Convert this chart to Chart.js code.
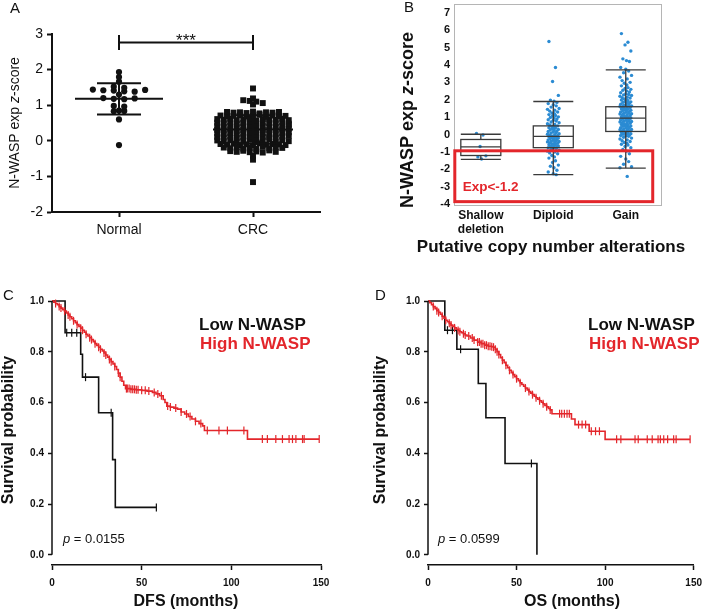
<!DOCTYPE html>
<html>
<head>
<meta charset="utf-8">
<title>N-WASP expression and survival</title>
<script src="https://cdn.jsdelivr.net/npm/chart.js@4.4.1/dist/chart.umd.min.js"></script>
<style>
  html, body { margin: 0; padding: 0; background: #fff; }
  #figure { position: relative; width: 709px; height: 611px; overflow: hidden; }
  #figure canvas { position: absolute; }
</style>
</head>
<body>
<div id="figure">
  <canvas id="panelA" width="340" height="260" style="left:0;top:0"></canvas>
  <canvas id="panelB" width="369" height="275" style="left:340px;top:-10px"></canvas>
  <canvas id="panelC" width="355" height="331" style="left:0;top:280px"></canvas>
  <canvas id="panelD" width="354" height="331" style="left:355px;top:280px"></canvas>
</div>
<script>
// ---------- Panel A : z-score normal vs CRC ----------
const groupLabels = ["Normal", "CRC"];
const normalValues = [1.93, 1.79, 1.66, 1.52, 1.49, 1.44, 1.42, 1.41, 1.39, 1.38, 1.43, 1.3,
  1.2, 1.18, 1.17, 1.19, 0.98, 0.96, 0.85, 0.83, 0.84, 0.6, -0.12];
const crcValues = [
  1.47, 1.19, 1.14, 1.12, 1.1, 1.06, 1.02,
  0.81, 0.79, 0.8, 0.78, 0.82, 0.77, 0.8, 0.79, 0.81,
  0.71, 0.69, 0.7, 0.72, 0.68, 0.7, 0.73, 0.67, 0.71, 0.69, 0.7,
  0.61, 0.59, 0.62, 0.58, 0.6, 0.63, 0.57, 0.61, 0.6, 0.59, 0.62, 0.58,
  0.51, 0.49, 0.52, 0.48, 0.5, 0.53, 0.47, 0.51, 0.5, 0.49, 0.52, 0.48,
  0.41, 0.39, 0.42, 0.38, 0.4, 0.43, 0.37, 0.41, 0.4, 0.39, 0.42, 0.44,
  0.31, 0.29, 0.32, 0.28, 0.3, 0.33, 0.27, 0.31, 0.3, 0.29, 0.32, 0.34,
  0.21, 0.19, 0.22, 0.18, 0.2, 0.23, 0.17, 0.21, 0.2, 0.19, 0.22, 0.24,
  0.11, 0.09, 0.12, 0.08, 0.1, 0.13, 0.07, 0.11, 0.1, 0.09, 0.12, 0.14,
  0.01, -0.01, 0.02, -0.02, 0.0, 0.03, -0.03, 0.01, 0.04, -0.04, 0.02, -0.01,
  -0.09, -0.11, -0.08, -0.12, -0.1, -0.13, -0.07, -0.11, -0.09, -0.1, -0.12,
  -0.19, -0.21, -0.18, -0.22, -0.2, -0.23, -0.17, -0.21, -0.19, -0.2,
  -0.29, -0.31, -0.28, -0.32, -0.3, -0.33, -0.27, -0.31,
  -0.42, -0.53, -1.16];
const groupMean = [1.18, 0.32];
const groupSd = [0.44, 0.4];
const zTicks = [-2, -1, 0, 1, 2, 3];

// ---------- Panel B : copy number alterations ----------
const cnaLabels = [["Shallow", "deletion"], "Diploid", "Gain"];
const shallowValues = [0.07, -0.02, -0.68, -1.22, -1.28, -1.4];
const diploidValues = [5.35, 3.85, 3.05, 2.25, 1.98, 1.92, 1.85, 1.78, 1.72, 1.65, 1.58, 1.5,
  1.45, 1.4, 1.35, 1.3, 1.25, 1.2, 1.15, 1.1, 1.08, 1.02, 0.98, 0.95, 0.9, 0.85, 0.82, 0.78,
  0.72, 0.68, 0.62, 0.58, 0.55, 0.5, 0.48, 0.45, 0.4, 0.38, 0.35, 0.3, 0.28, 0.25, 0.2, 0.18,
  0.15, 0.12, 0.1, 0.05, 0.02, 0.0, -0.02, -0.05, -0.08, -0.1, -0.12, -0.15, -0.18, -0.2,
  -0.22, -0.25, -0.28, -0.3, -0.32, -0.35, -0.38, -0.4, -0.42, -0.45, -0.48, -0.5, -0.52,
  -0.55, -0.58, -0.6, -0.62, -0.65, -0.68, -0.7, -0.72, -0.75, -0.78, -0.8, -0.85, -0.9,
  -0.95, -1.0, -1.05, -1.1, -1.2, -1.28, -1.35, -1.5, -1.6, -1.75, -1.82, -1.9, -2.05,
  -2.15, -2.25, -2.3];
const gainValues = [5.8, 5.3, 5.15, 4.8, 4.35, 4.25, 4.2, 3.85, 3.75, 3.65, 3.55, 3.4, 3.3,
  3.2, 3.1, 3.0, 2.95, 2.85, 2.8, 2.7, 2.65, 2.6, 2.55, 2.5, 2.45, 2.4, 2.35, 2.3, 2.28,
  2.25, 2.2, 2.15, 2.12, 2.1, 2.05, 2.0, 1.98, 1.95, 1.9, 1.88, 1.85, 1.82, 1.8, 1.75,
  1.72, 1.7, 1.68, 1.65, 1.62, 1.6, 1.58, 1.55, 1.52, 1.5, 1.48, 1.45, 1.42, 1.4, 1.38,
  1.35, 1.32, 1.3, 1.28, 1.25, 1.22, 1.2, 1.18, 1.15, 1.12, 1.1, 1.08, 1.05, 1.02, 1.0,
  0.98, 0.95, 0.92, 0.9, 0.88, 0.85, 0.82, 0.8, 0.78, 0.75, 0.72, 0.7, 0.68, 0.65, 0.62,
  0.6, 0.58, 0.55, 0.52, 0.5, 0.48, 0.45, 0.42, 0.4, 0.38, 0.35, 0.32, 0.3, 0.28, 0.25,
  0.22, 0.2, 0.18, 0.15, 0.12, 0.1, 0.08, 0.05, 0.02, 0.0, -0.02, -0.05, -0.08, -0.1,
  -0.15, -0.2, -0.25, -0.3, -0.35, -0.4, -0.45, -0.5, -0.55, -0.6, -0.68, -0.75, -0.85,
  -0.95, -1.1, -1.25, -1.4, -1.55, -1.7, -1.85, -1.9, -2.4];
const boxLow = [-1.42, -2.3, -1.92];
const boxQ1 = [-1.2, -0.75, 0.18];
const boxMedian = [-0.7, -0.1, 0.95];
const boxQ3 = [-0.28, 0.5, 1.6];
const boxHigh = [0.02, 1.9, 3.72];
const cnaTicks = [-4, -3, -2, -1, 0, 1, 2, 3, 4, 5, 6, 7];

// ---------- Panels C, D : Kaplan-Meier ----------
const monthTicks = [0, 50, 100, 150];
const survTicks = [0, 0.2, 0.4, 0.6, 0.8, 1.0];

const dfsLowTime = [0, 7.3, 16, 17, 26, 33.8, 35.3, 58.2];
const dfsLowSurv = [1, 0.875, 0.79, 0.7, 0.56, 0.375, 0.187, 0.187];
const dfsLowCensor = [8.2, 11, 13.8, 18.7, 33, 58.2];
const dfsHighTime = [0, 1, 2, 3, 4, 5, 6, 7, 8, 9, 10, 11, 12, 13, 14, 15, 16, 17, 18, 19, 20,
  21, 22, 23, 24, 25, 26, 27, 28, 29, 30, 31, 32, 33, 34, 35, 36, 37, 38, 39, 40, 41, 44, 47,
  50, 53, 56, 58, 60, 62, 63, 64, 66, 68, 70, 72, 74, 76, 78, 80, 82, 84, 85, 109, 149];
const dfsHighSurv = [1, 0.995, 0.99, 0.985, 0.978, 0.972, 0.966, 0.96, 0.953, 0.945, 0.938,
  0.93, 0.922, 0.915, 0.907, 0.9, 0.893, 0.885, 0.877, 0.869, 0.862, 0.855, 0.848, 0.84,
  0.832, 0.825, 0.818, 0.81, 0.803, 0.795, 0.787, 0.779, 0.77, 0.761, 0.752, 0.742, 0.73,
  0.716, 0.7, 0.684, 0.668, 0.655, 0.652, 0.65, 0.648, 0.645, 0.64, 0.634, 0.627, 0.612,
  0.6, 0.586, 0.582, 0.578, 0.574, 0.563, 0.555, 0.545, 0.535, 0.526, 0.517, 0.508, 0.49,
  0.456, 0.456];
const dfsHighCensor = [2, 4, 5, 7, 9, 10, 12, 14, 16, 17, 19, 21, 22, 24, 26, 27, 29, 30, 32,
  33, 35, 37, 38, 41.5, 42, 43, 44, 45, 46, 47, 48, 50, 52, 54, 57, 59, 61, 64.5, 66, 69, 72,
  75, 77, 80, 83, 86.6, 93.1, 97.8, 107, 117.3, 120.1, 124.8, 128.5, 132.2, 134.1, 136,
  139.7, 140.6, 149];

const osLowTime = [0, 9.5, 16.3, 28.4, 32.7, 43.5, 61.5];
const osLowSurv = [1, 0.885, 0.81, 0.675, 0.54, 0.36, 0];
const osLowCensor = [11, 13.8, 18.4, 58.4];
const osHighTime = [0, 1, 2, 3, 4, 5, 6, 7, 8, 9, 10, 11, 12, 13, 14, 15, 16, 17, 18, 19, 20,
  21, 22, 24, 26, 28, 30, 32, 34, 36, 37, 38, 39, 40, 41, 42, 43, 44, 45, 46, 47, 48, 49, 50,
  51, 52, 53, 54, 55, 56, 57, 58, 59, 60, 61, 62, 63, 64, 65, 66, 67, 68, 69, 70, 81, 83, 91,
  100, 148];
const osHighSurv = [1, 0.993, 0.985, 0.978, 0.97, 0.962, 0.955, 0.948, 0.94, 0.932, 0.924,
  0.918, 0.912, 0.905, 0.9, 0.894, 0.889, 0.884, 0.879, 0.875, 0.871, 0.866, 0.862, 0.854,
  0.846, 0.838, 0.832, 0.826, 0.822, 0.82, 0.818, 0.81, 0.8, 0.789, 0.777, 0.767, 0.757,
  0.747, 0.737, 0.727, 0.718, 0.71, 0.702, 0.694, 0.686, 0.678, 0.671, 0.664, 0.657, 0.65,
  0.643, 0.637, 0.631, 0.625, 0.619, 0.613, 0.607, 0.601, 0.595, 0.589, 0.583, 0.577,
  0.571, 0.556, 0.535, 0.513, 0.487, 0.455, 0.455];
const osHighCensor = [3, 5, 6, 8, 10, 12, 13, 15, 17, 18, 20, 21, 23, 25, 26, 28, 29, 30, 31,
  32, 33, 34, 35, 36, 37, 38, 39, 40, 42, 44, 46, 48, 50, 52, 55, 57, 59, 61, 63, 65, 67, 69,
  74.3, 75.5, 77, 78.5, 79.8, 85, 87, 89, 92.2, 94.6, 96.8, 106.5, 108.9, 116.9, 118.7,
  123.8, 126.6, 129.9, 131.2, 133.1, 135.3, 138.7, 140.1, 148];

// ---------- styles ----------
const FAMILY = '"Liberation Sans", Arial, Helvetica, sans-serif';
const INK = "#111";
const RED = "#e3262b";
const BLUE = "#2b8bd3";
Chart.defaults.font.family = FAMILY;
Chart.defaults.color = INK;
Chart.defaults.animation = false;
Chart.defaults.responsive = false;
Chart.defaults.devicePixelRatio = 1;
Chart.defaults.plugins.legend.display = false;
Chart.defaults.plugins.tooltip.enabled = false;

const f = (size, weight = "normal", style = "normal") => `${style} ${weight} ${size}px ${FAMILY}`;

// écrit un texte composé de plusieurs morceaux (italique, gras...) éventuellement tourné
function drawParts(ctx, parts, x, y, rotate = false, align = "left") {
  ctx.save();
  ctx.translate(x, y);
  if (rotate) ctx.rotate(-Math.PI / 2);
  ctx.textBaseline = rotate ? "middle" : "alphabetic";
  ctx.textAlign = "left";
  let total = 0;
  parts.forEach((p) => { ctx.font = p.font; total += ctx.measureText(p.text).width; });
  let cx = align === "center" ? -total / 2 : 0;
  parts.forEach((p) => {
    ctx.font = p.font;
    ctx.fillStyle = p.color || INK;
    ctx.fillText(p.text, cx, 0);
    cx += ctx.measureText(p.text).width;
  });
  ctx.restore();
}

function line(ctx, x1, y1, x2, y2) {
  ctx.beginPath();
  ctx.moveTo(x1, y1);
  ctx.lineTo(x2, y2);
  ctx.stroke();
}

const fixedTicks = (list) => (s) => { s.ticks = list.map((v) => ({ value: v })); };

// points de même niveau rangés côte à côte (colonne "beeswarm")
function swarm(values, center, step) {
  const rows = {};
  values.forEach((v) => {
    const k = Math.round(v * 10);
    (rows[k] = rows[k] || []).push(v);
  });
  const pts = [];
  Object.values(rows).forEach((row) =>
    row.forEach((v, i) => pts.push({ x: center + (i - (row.length - 1) / 2) * step, y: v }))
  );
  return pts;
}

// décalage horizontal fixe des points du panneau B
const JITTER = [-0.06, 0.03, -0.01, 0.07, -0.04, 0.01, 0.05, -0.07, 0, 0.04, -0.03, 0.08,
  -0.08, 0.02, -0.05, 0.06, -0.02, 0.015];
const jitter = (values, center) =>
  values.map((v, i) => ({ x: center + JITTER[i % JITTER.length], y: v }));

// ---------- Panel A ----------
const panelADecor = {
  id: "panelADecor",
  afterDatasetsDraw(chart) {
    const { ctx, scales: { x, y } } = chart;
    ctx.save();
    ctx.strokeStyle = INK;
    ctx.lineWidth = 2;
    const meanHalf = [44, 40];
    groupMean.forEach((m, i) => {
      const cx = x.getPixelForValue(i + 1);
      const yTop = y.getPixelForValue(m + groupSd[i]);
      const yBot = y.getPixelForValue(m - groupSd[i]);
      line(ctx, cx - meanHalf[i], y.getPixelForValue(m), cx + meanHalf[i], y.getPixelForValue(m));
      line(ctx, cx - 22, yTop, cx + 22, yTop);
      line(ctx, cx - 22, yBot, cx + 22, yBot);
      line(ctx, cx, yTop, cx, yBot);
    });
    // barre de significativité
    const x1 = x.getPixelForValue(1), x2 = x.getPixelForValue(2);
    const yb = y.getPixelForValue(2.76);
    line(ctx, x1, yb, x2, yb);
    line(ctx, x1, y.getPixelForValue(2.97), x1, y.getPixelForValue(2.55));
    line(ctx, x2, y.getPixelForValue(2.97), x2, y.getPixelForValue(2.55));
    ctx.fillStyle = INK;
    ctx.font = f(17);
    ctx.textAlign = "center";
    ctx.textBaseline = "alphabetic";
    ctx.fillText("***", (x1 + x2) / 2, yb + 3);
    ctx.restore();

    drawParts(ctx, [{ text: "A", font: f(15) }], 10, 13);
    drawParts(ctx, [
      { text: "N-WASP exp ", font: f(14) },
      { text: "z", font: f(14, "normal", "italic") },
      { text: "-score", font: f(14) },
    ], 15, 123, true, "center");
  },
};

new Chart(document.getElementById("panelA"), {
  type: "scatter",
  data: {
    datasets: [
      { data: swarm(normalValues, 1, 0.078), pointStyle: "circle", pointRadius: 3.1,
        pointBackgroundColor: INK, pointBorderWidth: 0 },
      { data: swarm(crcValues, 2, 0.0485), pointStyle: "rect", pointRadius: 4.2,
        pointBackgroundColor: INK, pointBorderWidth: 0 },
    ],
  },
  options: {
    layout: { padding: { top: 34, right: 20, left: 0, bottom: 0 } },
    scales: {
      x: {
        type: "linear", min: 0.5, max: 2.5,
        afterBuildTicks: fixedTicks([1, 2]),
        afterFit: (s) => { s.height = 48; },
        ticks: { callback: (v) => groupLabels[v - 1], font: { size: 14 }, color: INK, padding: 5, maxRotation: 0 },
        grid: { drawOnChartArea: false, tickLength: 5, tickWidth: 2, tickColor: INK },
        border: { color: INK, width: 2 },
      },
      y: {
        min: -2, max: 3,
        afterBuildTicks: fixedTicks(zTicks),
        afterFit: (s) => { s.width = 52; },
        ticks: { font: { size: 14 }, color: INK, padding: 4 },
        grid: { drawOnChartArea: false, tickLength: 5, tickWidth: 2, tickColor: INK },
        border: { color: INK, width: 2 },
      },
    },
  },
  plugins: [panelADecor],
});

// ---------- Panel B ----------
const boxPlot = {
  id: "boxPlot",
  afterDatasetsDraw(chart) {
    const { ctx, chartArea: a, scales: { x, y } } = chart;
    const half = 20;
    ctx.save();
    ctx.strokeStyle = "#3a3a3a";
    ctx.lineWidth = 1.3;
    boxMedian.forEach((m, i) => {
      const cx = x.getPixelForValue(i + 1);
      const yQ1 = y.getPixelForValue(boxQ1[i]), yQ3 = y.getPixelForValue(boxQ3[i]);
      const yLo = y.getPixelForValue(boxLow[i]), yHi = y.getPixelForValue(boxHigh[i]);
      ctx.strokeRect(cx - half, yQ3, 2 * half, yQ1 - yQ3);
      line(ctx, cx - half, y.getPixelForValue(m), cx + half, y.getPixelForValue(m));
      line(ctx, cx, yQ3, cx, yHi);
      line(ctx, cx, yQ1, cx, yLo);
      line(ctx, cx - half, yHi, cx + half, yHi);
      line(ctx, cx - half, yLo, cx + half, yLo);
    });
    // cadre gris
    ctx.strokeStyle = "#b5b5b5";
    ctx.lineWidth = 1;
    ctx.strokeRect(a.left + 0.5, a.top + 0.5, a.right - a.left - 1, a.bottom - a.top - 1);
    // zone rouge Exp<-1.2
    ctx.strokeStyle = RED;
    ctx.lineWidth = 3;
    const rx1 = x.getPixelForValue(0.641), rx2 = x.getPixelForValue(3.372);
    const ry1 = y.getPixelForValue(-0.93), ry2 = y.getPixelForValue(-3.85);
    ctx.strokeRect(rx1, ry1, rx2 - rx1, ry2 - ry1);
    ctx.restore();

    drawParts(ctx, [{ text: "Exp<-1.2", font: f(13.5, "bold"), color: RED }], 122.7, 201);
    drawParts(ctx, [{ text: "B", font: f(15) }], 64, 22);
    drawParts(ctx, [
      { text: "N-WASP exp ", font: f(18, "bold") },
      { text: "z", font: f(18, "bold", "italic") },
      { text: "-score", font: f(18, "bold") },
    ], 68, 130, true, "center");
    drawParts(ctx, [{ text: "Putative copy number alterations", font: f(17, "bold") }],
      211, 262, false, "center");
  },
};

new Chart(document.getElementById("panelB"), {
  type: "scatter",
  data: {
    datasets: [shallowValues, diploidValues, gainValues].map((vals, i) => ({
      data: jitter(vals, i + 1), pointRadius: 1.7, pointBackgroundColor: BLUE, pointBorderWidth: 0,
    })),
  },
  options: {
    layout: { padding: { top: 14, right: 47, left: 0, bottom: 0 } },
    scales: {
      x: {
        type: "linear", min: 0.63, max: 3.5,
        afterBuildTicks: fixedTicks([1, 2, 3]),
        afterFit: (s) => { s.height = 59; },
        ticks: { callback: (v) => cnaLabels[v - 1], font: { size: 12, weight: "bold" }, color: INK,
          padding: 2, maxRotation: 0, autoSkip: false },
        grid: { display: false, drawTicks: false, tickLength: 0 },
        border: { display: false },
      },
      y: {
        min: -4.1, max: 7.5,
        afterBuildTicks: fixedTicks(cnaTicks),
        afterFit: (s) => { s.width = 114; },
        ticks: { font: { size: 11, weight: "bold" }, color: INK, padding: 4 },
        grid: { display: false, drawTicks: false, tickLength: 0 },
        border: { display: false },
      },
    },
  },
  plugins: [boxPlot],
});

// ---------- Panels C et D ----------
function survAt(times, surv, t) {
  let s = surv[0];
  times.forEach((tt, i) => { if (tt <= t) s = surv[i]; });
  return s;
}

const kmCurve = (times, surv, color) => ({
  data: times.map((t, i) => ({ x: t, y: surv[i] })),
  showLine: true, stepped: true, borderColor: color, borderWidth: 1.6,
  pointRadius: 0, clip: false,
});

const censorMarks = (censor, times, surv, color) => ({
  data: censor.map((t) => ({ x: t, y: survAt(times, surv, t) })),
  pointStyle: "line", pointRotation: 90, pointRadius: 4,
  pointBorderColor: color, pointBorderWidth: 1.2, clip: false,
});

function kmDecor(o) {
  return {
    id: "kmDecor",
    afterDatasetsDraw(chart) {
      const { ctx, scales: { x, y } } = chart;
      ctx.save();
      ctx.strokeStyle = INK;
      ctx.lineWidth = 1.5;
      const x0 = x.getPixelForValue(0);
      line(ctx, x0, y.getPixelForValue(1), x0, y.getPixelForValue(0));
      ctx.restore();

      drawParts(ctx, [{ text: o.letter, font: f(15) }], o.letterX, 20);
      drawParts(ctx, [{ text: "Low N-WASP", font: f(17, "bold"), color: INK }], o.legendX, 50);
      drawParts(ctx, [{ text: "High N-WASP", font: f(17, "bold"), color: RED }], o.legendX + 1, 69);
      drawParts(ctx, [
        { text: "p", font: f(13, "normal", "italic") },
        { text: " = " + o.p, font: f(13) },
      ], o.pX, 263);
      drawParts(ctx, [{ text: "Survival probability", font: f(16, "bold") }], o.yTitleX, 150, true, "center");
      drawParts(ctx, [{ text: o.xTitle, font: f(16, "bold") }], o.xTitleX, 326, false, "center");
    },
  };
}

function survivalChart(id, o) {
  new Chart(document.getElementById(id), {
    type: "scatter",
    data: {
      datasets: [
        kmCurve(o.highTime, o.highSurv, RED),
        censorMarks(o.highCensor, o.highTime, o.highSurv, RED),
        kmCurve(o.lowTime, o.lowSurv, INK),
        censorMarks(o.lowCensor, o.lowTime, o.lowSurv, INK),
      ],
    },
    options: {
      layout: { padding: { top: 21, right: o.right, left: 0, bottom: 0 } },
      scales: {
        x: {
          type: "linear", min: 0, max: 150,
          afterBuildTicks: fixedTicks(monthTicks),
          afterFit: (s) => { s.height = 46; },
          ticks: { font: { size: 10, weight: "bold" }, color: INK, padding: 7, maxRotation: 0 },
          grid: { drawOnChartArea: false, tickLength: 5, tickWidth: 1.5, tickColor: INK },
          border: { color: INK, width: 1.5 },
        },
        y: {
          min: -0.04, max: 1,
          afterBuildTicks: fixedTicks(survTicks),
          afterFit: (s) => { s.width = o.yWidth; },
          ticks: { font: { size: 10, weight: "bold" }, color: INK, padding: 4, callback: (v) => v.toFixed(1) },
          grid: { drawOnChartArea: false, tickLength: 4, tickWidth: 1.5, tickColor: INK },
          border: { display: false },
        },
      },
    },
    plugins: [kmDecor(o)],
  });
}

survivalChart("panelC", {
  lowTime: dfsLowTime, lowSurv: dfsLowSurv, lowCensor: dfsLowCensor,
  highTime: dfsHighTime, highSurv: dfsHighSurv, highCensor: dfsHighCensor,
  letter: "C", letterX: 3, legendX: 199, p: "0.0155", pX: 63,
  xTitle: "DFS (months)", xTitleX: 186, yTitleX: 9, yWidth: 52, right: 34,
});

survivalChart("panelD", {
  lowTime: osLowTime, lowSurv: osLowSurv, lowCensor: osLowCensor,
  highTime: osHighTime, highSurv: osHighSurv, highCensor: osHighCensor,
  letter: "D", letterX: 20, legendX: 233, p: "0.0599", pX: 83,
  xTitle: "OS (months)", xTitleX: 217, yTitleX: 26, yWidth: 73, right: 11,
});
</script>
</body>
</html>
